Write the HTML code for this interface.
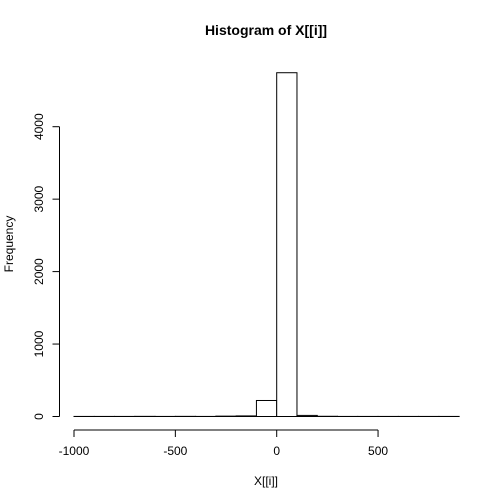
<!DOCTYPE html>
<html><head><meta charset="utf-8"><style>html,body{margin:0;padding:0;background:#fff}svg{display:block;font-family:"Liberation Sans",Arial,sans-serif}</style></head>
<body>
<svg id="chart" width="504" height="504" viewBox="0 0 504 504" xmlns="http://www.w3.org/2000/svg">
<text x="266" y="35" text-anchor="middle" font-size="14" font-weight="bold">Histogram of X[[i]]</text>
<text x="266" y="485" text-anchor="middle" font-size="12">X[[i]]</text>
<text x="13" y="244" text-anchor="middle" font-size="12" transform="rotate(-90 13 244)">Frequency</text>
<g id="bars"></g><g id="xaxis"></g><g id="yaxis"></g>
</svg>
<script>
const binStarts=[-1000,-900,-800,-700,-600,-500,-400,-300,-200,-100,0,100,200,300,400,500,600,700,800];
const counts=[1,1,1,2,1,2,1,5,8,221,4745,15,3,1,1,1,1,1,1];
const xTicks=[-1000,-500,0,500];
const yTicks=[0,1000,2000,3000,4000];
const binWidth=100;
const NS="http://www.w3.org/2000/svg";
function sx(v){return 276.7+(v)*0.2027;}
function sy(v){return 416.5-v*0.07245;}
function mk(t,a,p){const e=document.createElementNS(NS,t);for(const k in a)e.setAttribute(k,a[k]);p.appendChild(e);return e;}
const bars=document.getElementById('bars');
binStarts.forEach((b,i)=>{
 const x0=sx(b),x1=sx(b+binWidth),y=sy(counts[i]);
 const r=mk('rect',{x:x0,y:y,width:x1-x0,height:Math.max(416.5-y,0),fill:'#fff',stroke:'#000','stroke-width':1},bars);
 
 
});
const xa=document.getElementById('xaxis');
const xl=mk('line',{x1:sx(xTicks[0]),x2:sx(xTicks[xTicks.length-1]),y1:430,y2:430,stroke:'#000'},xa);


xTicks.forEach(t=>{
 mk('line',{x1:sx(t),x2:sx(t),y1:430,y2:437,stroke:'#000'},xa);
 const tx=mk('text',{x:sx(t),y:455,'text-anchor':'middle','font-size':12},xa);
 tx.textContent=t;
 
 
});
const ya=document.getElementById('yaxis');
const yl=mk('line',{x1:59.5,x2:59.5,y1:sy(yTicks[0]),y2:sy(yTicks[yTicks.length-1]),stroke:'#000'},ya);


yTicks.forEach(t=>{
 mk('line',{x1:52.5,x2:59.5,y1:sy(t),y2:sy(t),stroke:'#000'},ya);
 const tx=mk('text',{x:43,y:sy(t),'text-anchor':'middle','font-size':12,transform:`rotate(-90 43 ${sy(t)})`},ya);
 tx.textContent=t;
 
 
});
</script>
</body></html>
